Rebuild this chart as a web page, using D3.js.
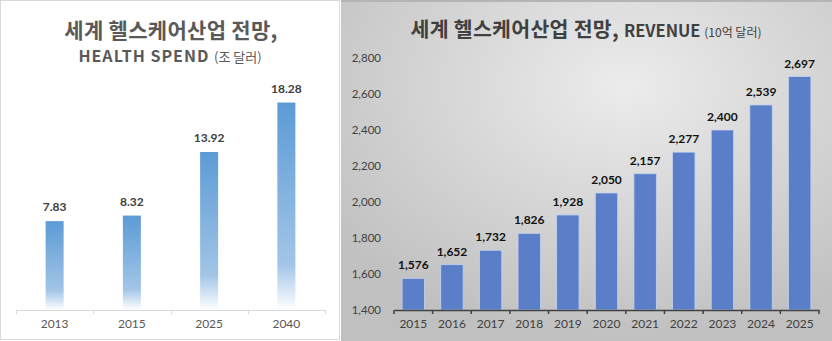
<!DOCTYPE html>
<html><head><meta charset="utf-8">
<script src="https://cdnjs.cloudflare.com/ajax/libs/d3/7.8.5/d3.min.js"></script>
<style>html,body{margin:0;padding:0;background:#fff;}svg{display:block;}</style>
</head><body>
<script>
// Left chart data
const spendYears = ["2013", "2015", "2025", "2040"];
const spendValues = [7.83, 8.32, 13.92, 18.28];
// Right chart data
const revYears = ["2015","2016","2017","2018","2019","2020","2021","2022","2023","2024","2025"];
const revValues = [1576, 1652, 1732, 1826, 1928, 2050, 2157, 2277, 2400, 2539, 2697];
const revTicks = [1400, 1600, 1800, 2000, 2200, 2400, 2600, 2800];

const W = 832, H = 341;
const svg = d3.select("body").append("svg").attr("width", W).attr("height", H);
const defs = svg.append("defs");

const barGrad = defs.append("linearGradient").attr("id", "barGrad")
  .attr("x1", 0).attr("y1", 0).attr("x2", 0).attr("y2", 1);
barGrad.append("stop").attr("offset", "0%").attr("stop-color", "#5b9bd5");
barGrad.append("stop").attr("offset", "78%").attr("stop-color", "#a2c5e7");
barGrad.append("stop").attr("offset", "100%").attr("stop-color", "#ffffff");

const bgGrad = defs.append("radialGradient").attr("id", "bgGrad")
  .attr("cx", "58%").attr("cy", "25%").attr("r", "75%");
bgGrad.append("stop").attr("offset", "0%").attr("stop-color", "#ececec");
bgGrad.append("stop").attr("offset", "100%").attr("stop-color", "#c0c0c0");

const KFONT = "'Noto Sans CJK KR', 'Noto Sans', sans-serif";
const NFONT = "Lato, 'Noto Sans', sans-serif";

// ---------------- Left panel ----------------
svg.append("rect").attr("x", 0.5).attr("y", 0.5).attr("width", 339).attr("height", 339)
  .attr("fill", "#fff").attr("stroke", "#d9d9d9");

const L = svg.append("g");
L.append("text").attr("x", 171).attr("y", 38).attr("text-anchor", "middle")
  .attr("font-family", KFONT).attr("font-weight", "bold").attr("font-size", 21)
  .attr("letter-spacing", 0.3)
  .attr("fill", "#595959").text("세계 헬스케어산업 전망,");
const t2 = L.append("text").attr("x", 170).attr("y", 62).attr("text-anchor", "middle")
  .attr("font-family", KFONT).attr("fill", "#595959");
t2.append("tspan").attr("font-weight", "bold").attr("font-size", 16).attr("letter-spacing", 1).text("HEALTH SPEND ");
t2.append("tspan").attr("font-size", 13).text("(조 달러)");

const lx = d3.scaleBand().domain(spendYears).range([16, 325]);
const ly = d3.scaleLinear().domain([0, 20]).range([310, 83]);
const lBarW = 18;

L.selectAll("rect.bar").data(spendValues).enter().append("rect").attr("class", "bar")
  .attr("x", (d, i) => lx(spendYears[i]) + lx.bandwidth() / 2 - lBarW / 2)
  .attr("y", d => ly(d)).attr("width", lBarW).attr("height", d => ly(0) - ly(d))
  .attr("fill", "url(#barGrad)");

L.selectAll("text.val").data(spendValues).enter().append("text").attr("class", "val")
  .attr("x", (d, i) => lx(spendYears[i]) + lx.bandwidth() / 2)
  .attr("y", d => ly(d) - 10).attr("text-anchor", "middle")
  .attr("font-family", NFONT).attr("font-weight", "bold").attr("font-size", 12)
  .attr("fill", "#404040").text(d => d.toFixed(2));

const lAxis = L.append("g").attr("transform", "translate(0,310)")
  .call(d3.axisBottom(lx).tickSize(0).tickPadding(9));
lAxis.select(".domain").attr("stroke", "#d9d9d9");
lAxis.selectAll("text").attr("font-family", NFONT).attr("font-size", 12).attr("fill", "#595959");
const lBounds = spendYears.map(d => lx(d)).concat([lx.range()[1]]);
L.selectAll("line.bt").data(lBounds).enter().append("line").attr("class", "bt")
  .attr("x1", d => Math.round(d) + 0.5).attr("x2", d => Math.round(d) + 0.5)
  .attr("y1", 310).attr("y2", 314).attr("stroke", "#d9d9d9");

// ---------------- Right panel ----------------
svg.append("rect").attr("x", 341).attr("y", 0).attr("width", W - 341).attr("height", H)
  .attr("fill", "url(#bgGrad)");
svg.append("rect").attr("x", 341).attr("y", 0).attr("width", W - 341).attr("height", 2)
  .attr("fill", "#b4b4b4");

const R = svg.append("g");
const rt = R.append("text").attr("x", 586).attr("y", 37).attr("text-anchor", "middle")
  .attr("font-family", KFONT).attr("fill", "#404040");
rt.append("tspan").attr("font-weight", "bold").attr("font-size", 20.5).attr("letter-spacing", 0.3).text("세계 헬스케어산업 전망, ");
rt.append("tspan").attr("font-weight", "bold").attr("font-size", 16.5).text("REVENUE ");
rt.append("tspan").attr("font-size", 12).text("(10억 달러)");

const rx = d3.scaleBand().domain(revYears).range([394, 819]).paddingInner(0.42).paddingOuter(0.21);
const ry = d3.scaleLinear().domain([1400, 2800]).range([310, 58]);

const yAx = R.append("g").attr("transform", "translate(381,0)")
  .call(d3.axisLeft(ry).tickValues(revTicks).tickSize(0).tickPadding(0).tickFormat(d3.format(",")));
yAx.select(".domain").remove();
yAx.selectAll("text").attr("font-family", NFONT).attr("font-size", 11.5).attr("fill", "#404040");

R.selectAll("rect.bar").data(revValues).enter().append("rect").attr("class", "bar")
  .attr("x", (d, i) => rx(revYears[i])).attr("y", d => ry(d))
  .attr("width", rx.bandwidth()).attr("height", d => ry(1400) - ry(d))
  .attr("fill", "#5a7fc8").attr("stroke", "#c5d3ee").attr("stroke-width", 0.8);

R.selectAll("text.val").data(revValues).enter().append("text").attr("class", "val")
  .attr("x", (d, i) => rx(revYears[i]) + rx.bandwidth() / 2)
  .attr("y", d => ry(d) - 9).attr("text-anchor", "middle")
  .attr("font-family", NFONT).attr("font-weight", "bold").attr("font-size", 12)
  .attr("fill", "#111").text(d => d3.format(",")(d));

const xAx = R.append("g").attr("transform", "translate(0,310)")
  .call(d3.axisBottom(rx).tickSize(0).tickPadding(9));
xAx.select(".domain").attr("stroke", "#404040").attr("stroke-width", 1.5);
xAx.selectAll("text").attr("font-family", NFONT).attr("font-size", 12).attr("fill", "#404040");
const rBounds = d3.range(revYears.length + 1).map(i => 394 + i * (425 / revYears.length));
R.selectAll("line.bt").data(rBounds).enter().append("line").attr("class", "bt")
  .attr("x1", d => d).attr("x2", d => d).attr("y1", 310).attr("y2", 314)
  .attr("stroke", "#404040").attr("stroke-width", 1.5);
</script>
</body></html>
